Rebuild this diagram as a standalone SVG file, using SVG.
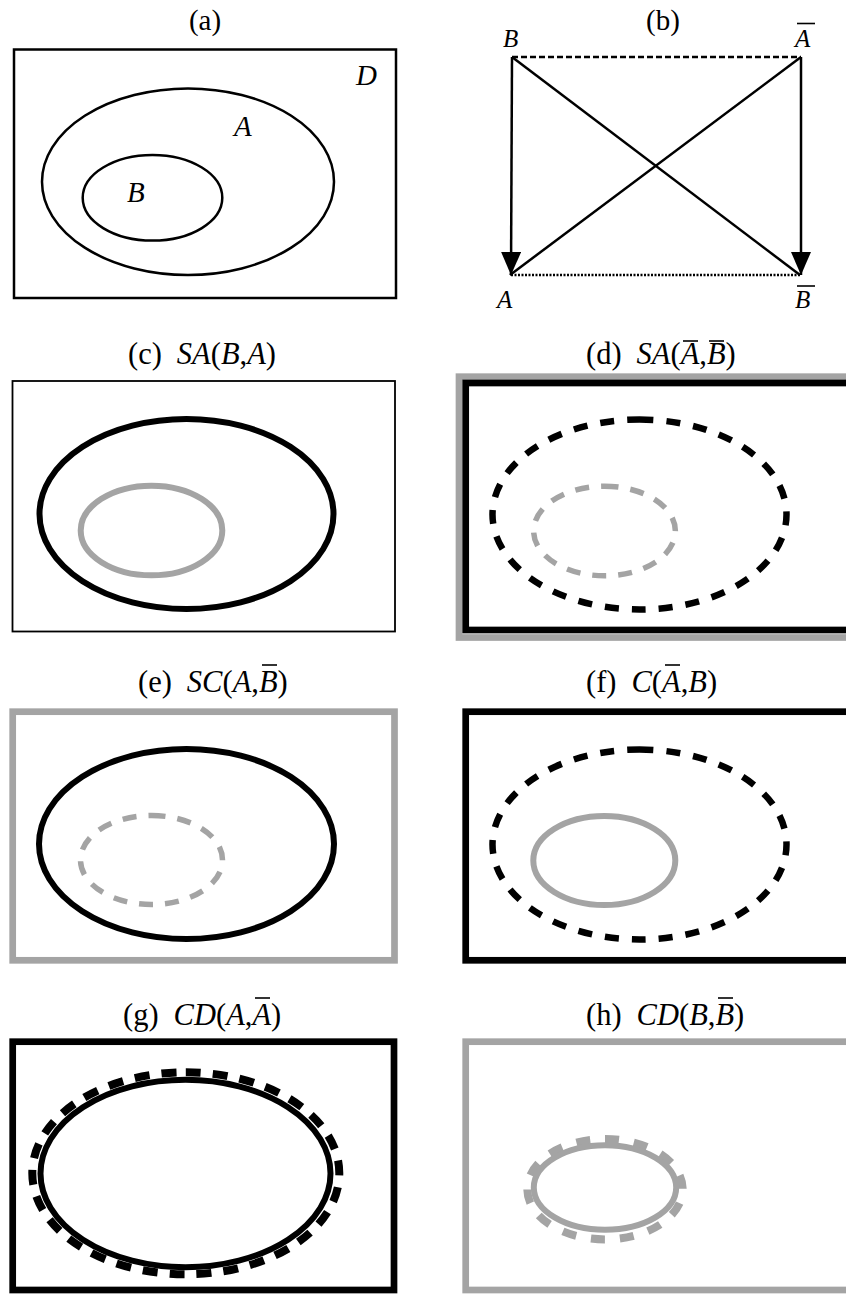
<svg xmlns="http://www.w3.org/2000/svg" width="846" height="1294" viewBox="0 0 846 1294">
<style>
  text { font-family: "Liberation Serif", "Times New Roman", serif; fill: #000; }
  .title { font-size: 30.5px; }
  .title2 { font-size: 29px; }
  .i { font-style: italic; }
  .lbl { font-size: 29px; font-style: italic; }
  .lblb { font-size: 25px; font-style: italic; }
  .bar { stroke: #000; stroke-width: 1.6; fill: none; }
  .thin { fill: none; stroke: #000; stroke-width: 2.5; }
  .kS { fill: none; stroke: #000; stroke-width: 6; }
  .gS { fill: none; stroke: #a4a4a4; stroke-width: 6; }
  .kD { fill: none; stroke: #000; stroke-width: 6.5; stroke-dasharray: 14 13; }
  .gD { fill: none; stroke: #a4a4a4; stroke-width: 5.5; stroke-dasharray: 14 12; }
  .kT { fill: none; stroke: #000; stroke-width: 8; stroke-dasharray: 15 12; }
  .gT { fill: none; stroke: #a4a4a4; stroke-width: 8; stroke-dasharray: 14 15; }
  .kR { fill: none; stroke: #000; stroke-width: 6.7; }
  .gR { fill: none; stroke: #a4a4a4; stroke-width: 6.7; }
  .edge { fill: none; stroke: #000; stroke-width: 2.5; }
</style>
<defs>
  <marker id="arrow" viewBox="0 0 23 20" refX="23" refY="10" markerWidth="23" markerHeight="20" markerUnits="userSpaceOnUse" orient="auto">
    <path d="M0,0 L23,10 L0,20 Z" fill="#000"/>
  </marker>
</defs>

<!-- (a) -->
<g id="panel-a">
  <text class="title2" x="205" y="30" text-anchor="middle">(a)</text>
  <rect class="thin" x="14" y="49.5" width="382" height="248.5"/>
  <ellipse class="thin" cx="188" cy="181.7" rx="146" ry="93.3"/>
  <ellipse class="thin" cx="152.5" cy="197.8" rx="69.8" ry="42.8"/>
  <text class="lbl" x="356" y="85">D</text>
  <text class="lbl" x="234" y="136">A</text>
  <text class="lbl" x="127" y="202">B</text>
</g>

<!-- (b) -->
<g id="panel-b">
  <text class="title2" x="663" y="30" text-anchor="middle">(b)</text>
  <g id="node-B"><text class="lblb" x="503" y="47">B</text></g>
  <g id="node-notA"><text class="lblb" x="795" y="47">A</text><line class="bar" x1="797" y1="23.5" x2="815" y2="23.5"/></g>
  <g id="node-A"><text class="lblb" x="497" y="308">A</text></g>
  <g id="node-notB"><text class="lblb" x="795" y="308">B</text><line class="bar" x1="797" y1="286" x2="815" y2="286"/></g>
  <g id="connectors">
    <line class="edge" x1="512" y1="57" x2="801" y2="57" stroke-dasharray="6 3"/>
    <line class="edge" x1="511" y1="275" x2="800" y2="275" stroke-dasharray="2 1.5"/>
    <line class="edge" x1="512" y1="57" x2="800" y2="275"/>
    <line class="edge" x1="801" y1="57" x2="510" y2="275"/>
    <line class="edge" x1="512" y1="57" x2="511" y2="275" marker-end="url(#arrow)"/>
    <line class="edge" x1="801" y1="57" x2="801" y2="275" marker-end="url(#arrow)"/>
  </g>
</g>

<!-- (c) -->
<g id="panel-c">
  <text class="title" x="128" y="364">(c)<tspan dx="15" class="i">SA</tspan>(<tspan class="i">B</tspan>,<tspan class="i">A</tspan>)</text>
  <rect x="12.5" y="381" width="382.5" height="250.5" fill="none" stroke="#000" stroke-width="1.8"/>
  <ellipse class="kS" cx="186.5" cy="514" rx="147" ry="95"/>
  <ellipse class="gS" cx="151.5" cy="530.5" rx="70.8" ry="44.8"/>
</g>

<!-- (d) -->
<g id="panel-d">
  <text class="title" x="586" y="364">(d)<tspan dx="15" class="i">SA</tspan>(<tspan class="i">A</tspan>,<tspan class="i">B</tspan>)</text>
  <line class="bar" x1="683" y1="341" x2="698" y2="341"/>
  <line class="bar" x1="709" y1="341" x2="724" y2="341"/>
  <rect class="gR" x="459" y="376.7" width="400" height="260.8"/>
  <rect class="kR" x="465.7" y="383" width="400" height="247"/>
  <path class="kD" d="M639.5,419.5 A147,95 0 1 1 639.5,609.5 A147,95 0 1 1 639.5,419.5"/>
  <path class="gD" d="M604.5,486.2 A70.8,44.8 0 1 1 604.5,575.8 A70.8,44.8 0 1 1 604.5,486.2"/>
</g>

<!-- (e) -->
<g id="panel-e">
  <text class="title" x="138" y="692">(e)<tspan dx="15" class="i">SC</tspan>(<tspan class="i">A</tspan>,<tspan class="i">B</tspan>)</text>
  <line class="bar" x1="262" y1="665" x2="277" y2="665"/>
  <rect class="gR" x="12.7" y="711.7" width="381.8" height="248.6"/>
  <ellipse class="kS" cx="186.5" cy="844" rx="147.5" ry="95"/>
  <path class="gD" d="M151.5,815.5 A71,44.5 0 1 1 151.5,904.5 A71,44.5 0 1 1 151.5,815.5"/>
</g>

<!-- (f) -->
<g id="panel-f">
  <text class="title" x="586" y="692">(f)<tspan dx="15" class="i">C</tspan>(<tspan class="i">A</tspan>,<tspan class="i">B</tspan>)</text>
  <line class="bar" x1="665" y1="665" x2="680" y2="665"/>
  <rect class="kR" x="465.7" y="711.7" width="400" height="248.6"/>
  <path class="kD" d="M639.5,749.5 A147,95 0 1 1 639.5,939.5 A147,95 0 1 1 639.5,749.5"/>
  <ellipse class="gS" cx="604.3" cy="860.5" rx="71" ry="44.5"/>
</g>

<!-- (g) -->
<g id="panel-g">
  <text class="title" x="123" y="1025">(g)<tspan dx="15" class="i">CD</tspan>(<tspan class="i">A</tspan>,<tspan class="i">A</tspan>)</text>
  <line class="bar" x1="255" y1="998" x2="270" y2="998"/>
  <rect class="kR" x="12.7" y="1041.7" width="381.3" height="248.3"/>
  <path class="kT" d="M185.8,1072.3 A153.5,101 0 1 1 185.8,1274.3 A153.5,101 0 1 1 185.8,1072.3"/>
  <ellipse class="kS" cx="185.5" cy="1173.5" rx="145" ry="93.7"/>
</g>

<!-- (h) -->
<g id="panel-h">
  <text class="title" x="586" y="1025">(h)<tspan dx="15" class="i">CD</tspan>(<tspan class="i">B</tspan>,<tspan class="i">B</tspan>)</text>
  <line class="bar" x1="718" y1="998" x2="733" y2="998"/>
  <rect class="gR" x="465.7" y="1041.7" width="400" height="248.3"/>
  <path class="gT" d="M605,1139 A77.7,50.2 0 1 1 605,1239.4 A77.7,50.2 0 1 1 605,1139"/>
  <ellipse class="gS" cx="605" cy="1187.5" rx="71.2" ry="42.3" stroke-width="5.5"/>
</g>
</svg>
